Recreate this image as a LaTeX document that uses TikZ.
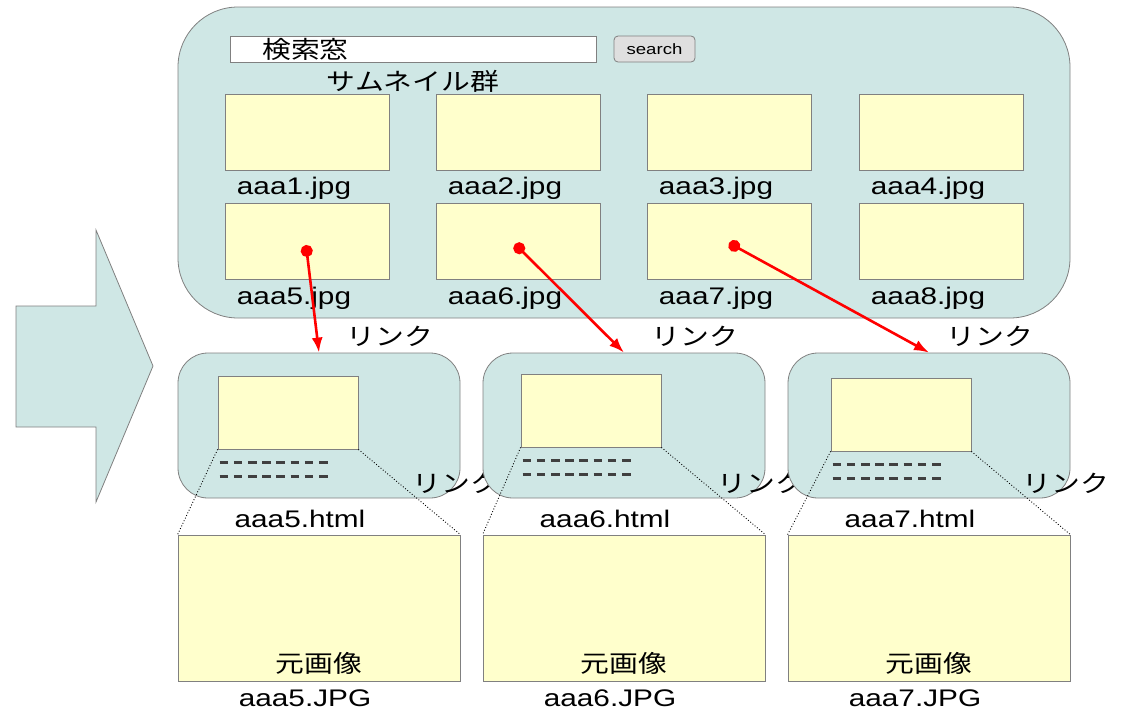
\documentclass[tikz,border=0pt]{standalone}
\usepackage{fontspec}
\setmainfont[FakeStretch=1.24]{Liberation Sans}
\newfontfamily\jpfont[FakeStretch=1.2]{Noto Sans CJK JP}
\usetikzlibrary{arrows.meta,positioning,calc}

\definecolor{panelfill}{RGB}{207,231,229}
\definecolor{thumbfill}{RGB}{255,255,204}
\definecolor{edgegray}{RGB}{128,128,128}
\definecolor{dashgray}{RGB}{64,64,64}

\tikzset{
  panel/.style={draw=edgegray, fill=panelfill, line width=0.8pt},
  thumb/.style={draw=edgegray, fill=thumbfill, line width=0.8pt, inner sep=0pt},
  txt/.style={font=\fontsize{24}{27}\selectfont, inner sep=0pt},
  jtxt/.style={font=\fontsize{24}{28}\selectfont\jpfont, inner sep=0pt},
  linkarrow/.style={red, line width=2.6pt, {Circle[length=12pt]}-{Latex[length=15pt,width=11pt]}},
  lines/.style={dashgray, line width=2.6pt, dash pattern=on 8.5pt off 5.7pt},
  zoomline/.style={black, line width=0.9pt, dotted}
}

\begin{document}
\begin{tikzpicture}[x=1pt,y=-1pt]
\useasboundingbox (0,0) rectangle (1137,713);

% Big arrow
\draw[panel] (16,306) -- (96,306) -- (96,230) -- (153,366) -- (96,502) -- (96,427) -- (16,427) -- cycle;

% Top page
\node[panel, rounded corners=60pt, minimum width=892pt, minimum height=311pt] (top) at (624,162.5) {};
\node[draw=edgegray, fill=white, line width=0.8pt, minimum width=366pt, minimum height=26pt] (searchbox) at (413,49) {};
\node[jtxt, anchor=west] (searchlabel) at (262,49) {検索窓};
\node[draw=edgegray, fill=gray!25, rounded corners=4pt, line width=0.8pt, minimum width=81pt, minimum height=26pt,
      font=\fontsize{15}{18}\selectfont] (searchbtn) at (654.5,49) {search};
\node[jtxt] (thumbtitle) at (413,81) {サムネイル群};

% Thumbnails
\foreach \i/\x in {1/307,2/518,3/729,4/941}{
  \node[thumb, minimum width=164pt, minimum height=76pt] (t\i) at (\x,132) {};
  \node[txt] (tl\i) at (\x-13,188) {aaa\i.jpg};
}
\foreach \i/\x in {5/307,6/518,7/729,8/941}{
  \node[thumb, minimum width=164pt, minimum height=76pt] (t\i) at (\x,241) {};
  \node[txt] (tl\i) at (\x-13,298) {aaa\i.jpg};
}

% Pages and originals
\foreach \i/\x/\ix/\iy in {5/319/288/412.5,6/624/591/410.5,7/929/901/414.5}{
  \node[panel, rounded corners=30pt, minimum width=282pt, minimum height=145pt] (p\i) at (\x,425.5) {};
  \node[thumb, minimum width=140pt, minimum height=73pt] (i\i) at (\ix,\iy) {};
  \draw[lines] ($(i\i.south west)+(2,13)$) -- ($(i\i.south west)+(110,13)$);
  \draw[lines] ($(i\i.south west)+(2,27)$) -- ($(i\i.south west)+(110,27)$);
  \node[txt] (pl\i) at (\x-19,519) {aaa\i.html};
  \node[jtxt] (plink\i) at (\x+137,483) {リンク};
  \node[thumb, minimum width=282pt, minimum height=146pt] (b\i) at (\x,608) {};
  \node[jtxt] (bt\i) at (\x,663) {元画像};
  \node[txt] (bl\i) at (\x-14,698) {aaa\i.JPG};
  \draw[zoomline] (i\i.south west) -- (b\i.north west);
  \draw[zoomline] (i\i.south east) -- (b\i.north east);
}

% Links
\coordinate (d5) at (306,245);
\coordinate (d6) at (515,244);
\coordinate (d7) at (729,243);
\draw[linkarrow] (d5) -- (p5.north);
\draw[linkarrow] (d6) -- (p6.north);
\draw[linkarrow] (d7) -- (p7.north);
\node[jtxt] (link5) at (390,336) {リンク};
\node[jtxt] (link6) at (695,336) {リンク};
\node[jtxt] (link7) at (990,336) {リンク};
\end{tikzpicture}
\end{document}
